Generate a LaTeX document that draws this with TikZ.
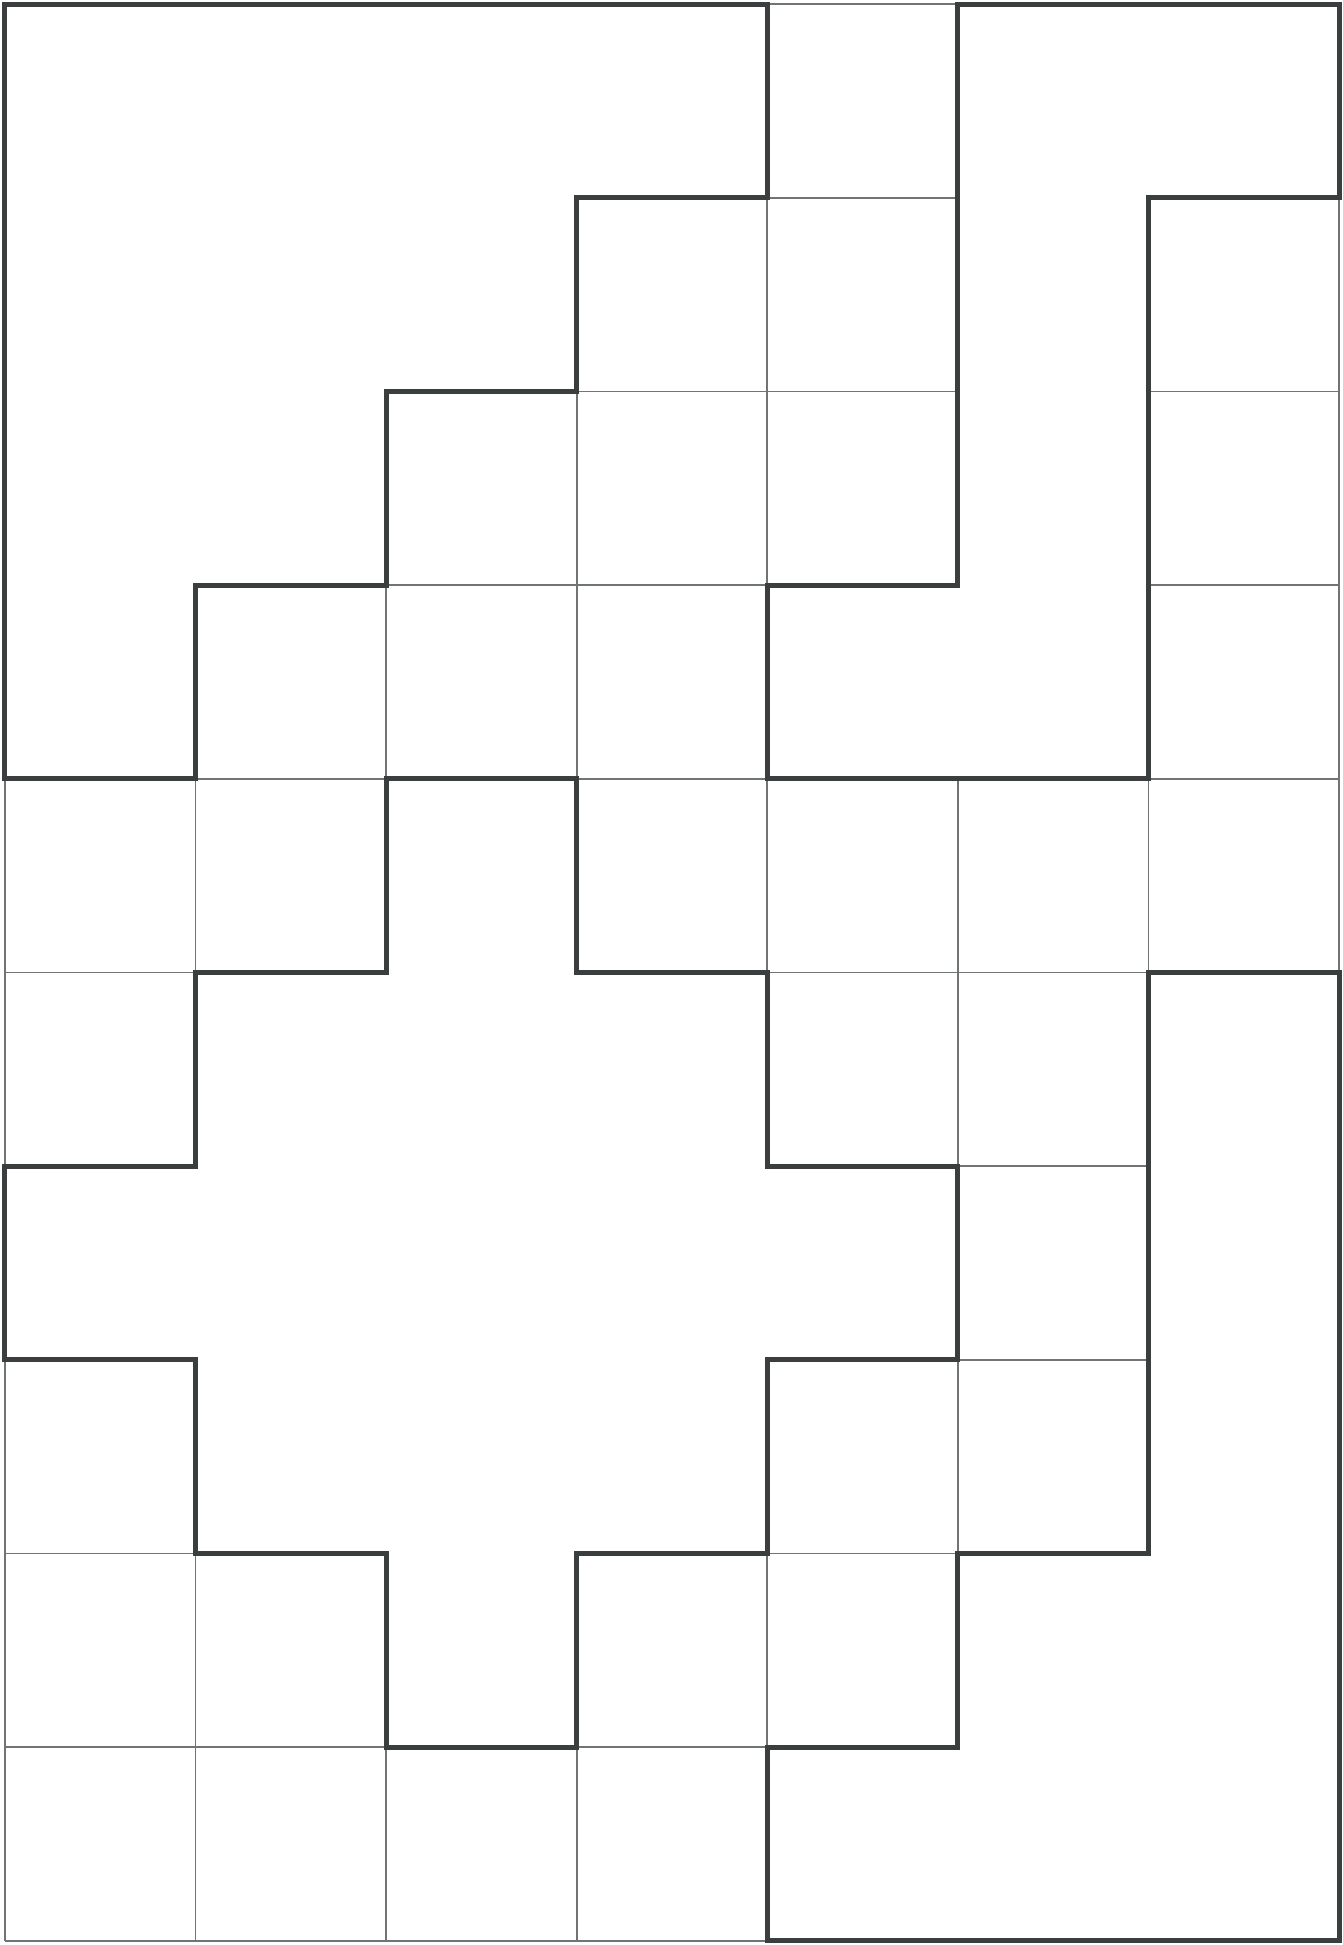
\documentclass[tikz,border=0pt]{standalone}
\usepackage{xcolor}
\usepackage{tikz}

\definecolor{inkgray}{HTML}{3A3E3E}
\definecolor{gridgray}{HTML}{707474}

\begin{document}
\begin{tikzpicture}[
  x=9.53cm, y=-9.685cm,
  cellline/.style={draw=gridgray, line width=2.4pt},
  region/.style={draw=inkgray, fill=white, line width=7pt, line join=miter},
]
\useasboundingbox[fill=white] (-0.026,-0.021) rectangle (7.016,10.021);
% thin grid
\foreach \i in {0,...,7}
  \draw[cellline] (\i,0) -- (\i,10);
\foreach \j in {0,...,10}
  \draw[cellline] (0,\j) -- (7,\j);
% top-left staircase
\draw[region] (0,0) -- (4,0) -- (4,1) -- (3,1) -- (3,2) -- (2,2) -- (2,3)
  -- (1,3) -- (1,4) -- (0,4) -- cycle;
% top-right L
\draw[region] (5,0) -- (7,0) -- (7,1) -- (6,1) -- (6,4) -- (4,4) -- (4,3)
  -- (5,3) -- cycle;
% central cross
\draw[region] (2,4) -- (3,4) -- (3,5) -- (4,5) -- (4,6) -- (5,6) -- (5,7)
  -- (4,7) -- (4,8) -- (3,8) -- (3,9) -- (2,9) -- (2,8) -- (1,8) -- (1,7)
  -- (0,7) -- (0,6) -- (1,6) -- (1,5) -- (2,5) -- cycle;
% bottom-right L
\draw[region] (6,5) -- (7,5) -- (7,10) -- (4,10) -- (4,9) -- (5,9) -- (5,8)
  -- (6,8) -- cycle;
\end{tikzpicture}
\end{document}
